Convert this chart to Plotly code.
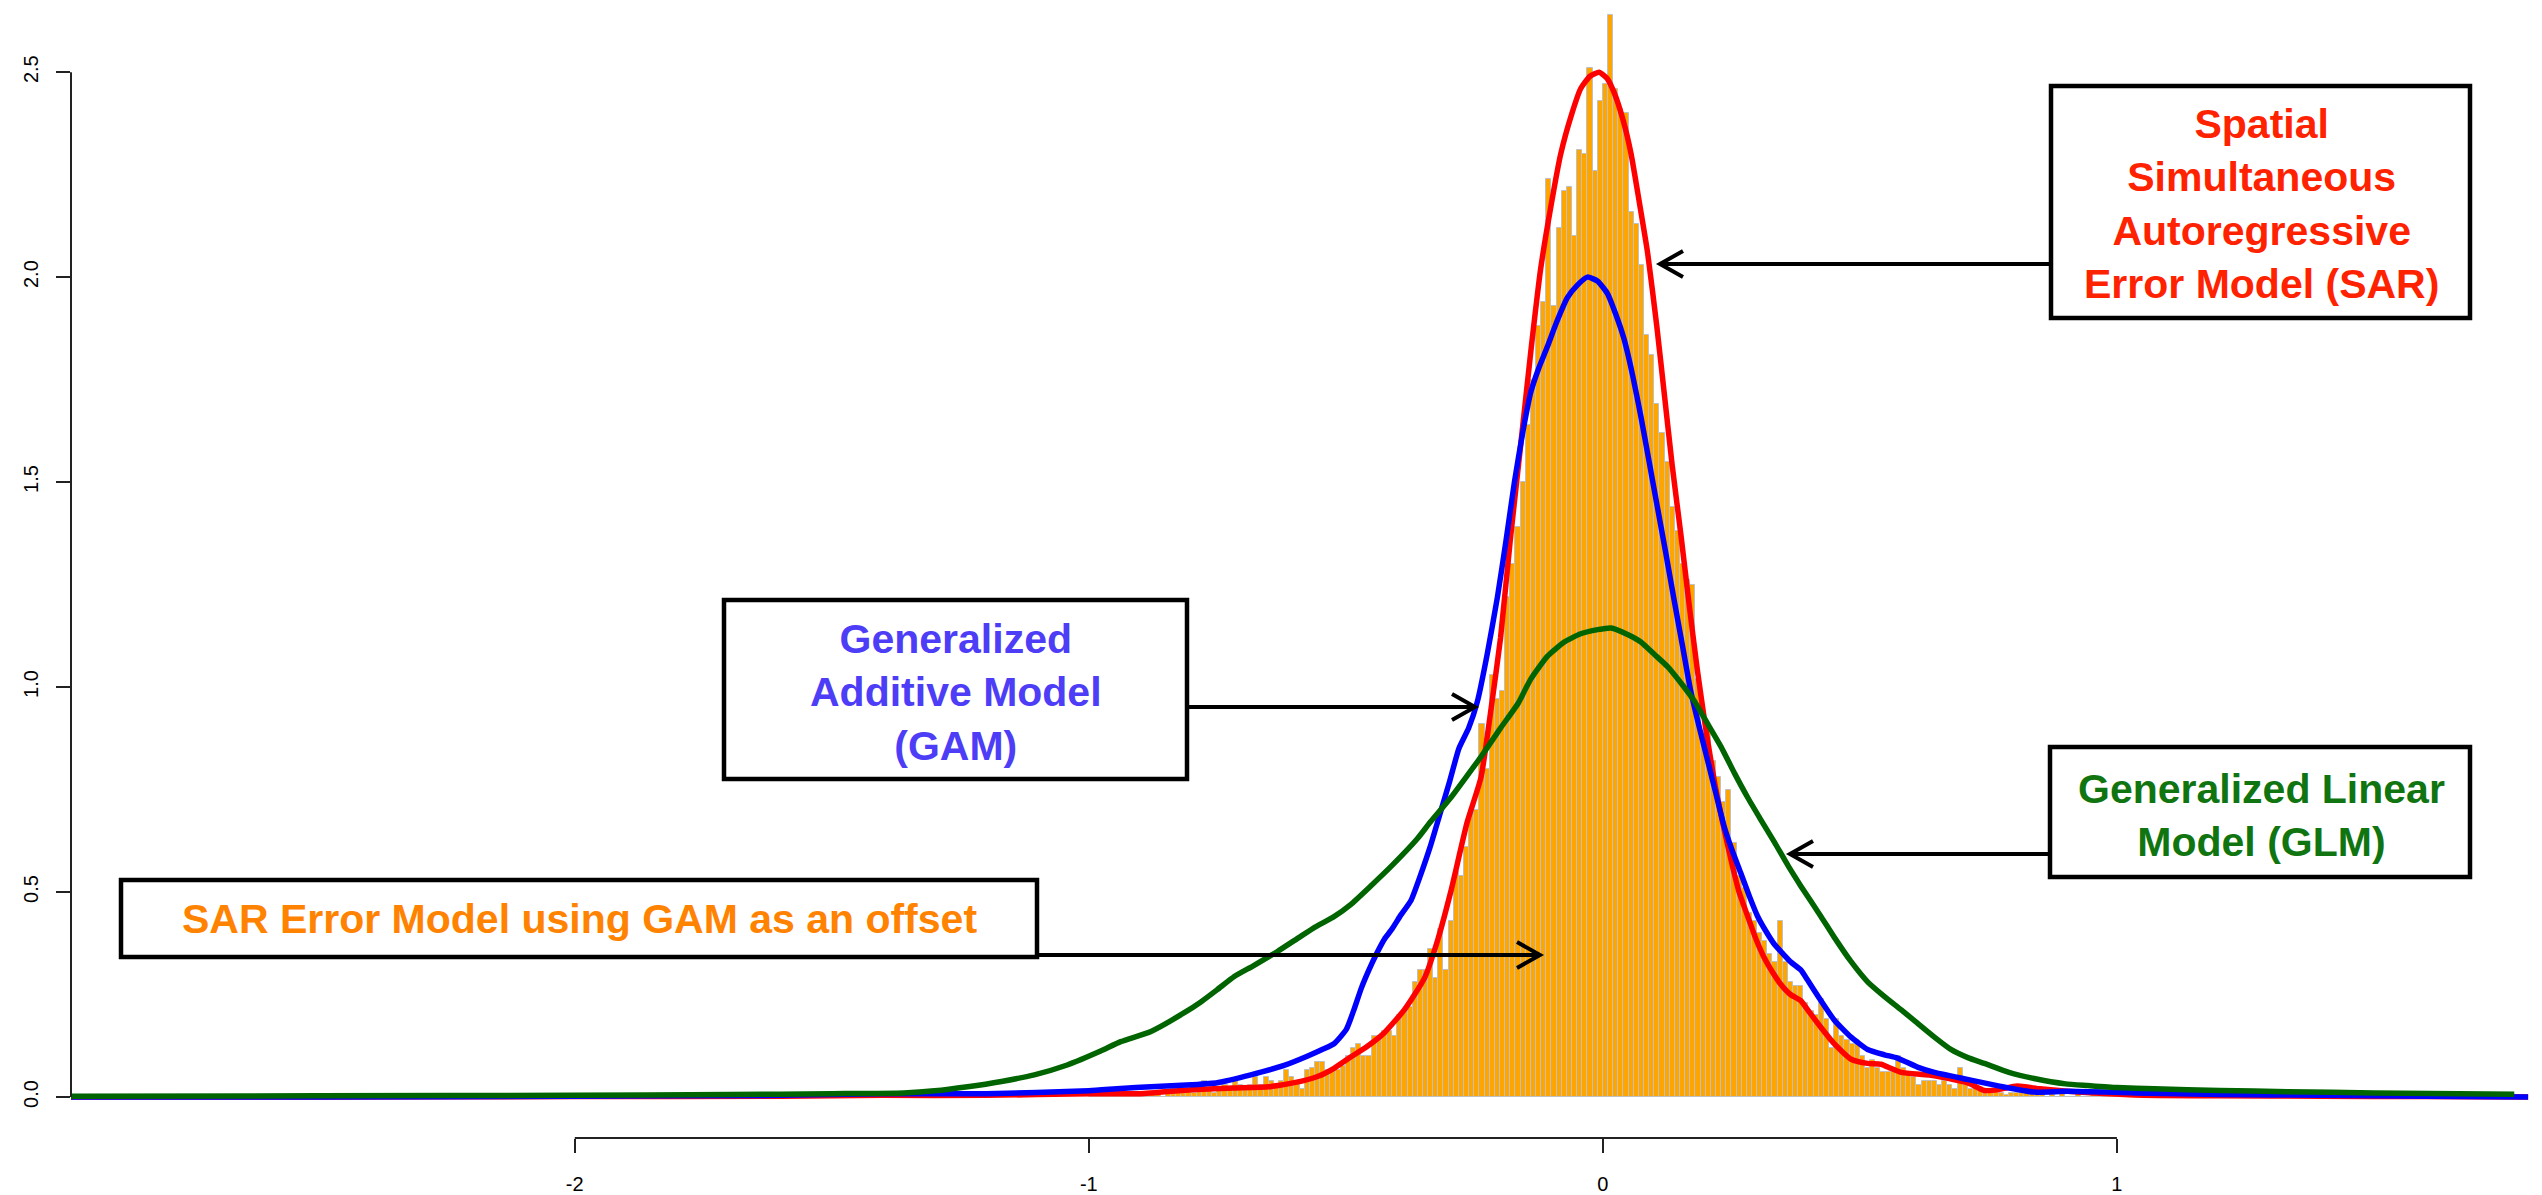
import plotly.graph_objects as go

# ---------------- data ----------------
bin_start = -1.00
bin_width = 0.01
hist_density = [
    0, 0, 0.01, 0, 0, 0.01, 0, 0, 0.01, 0, 0.01, 0, 0.01, 0.01, 0,
    0.01, 0.02, 0.01, 0.01, 0.02, 0.01, 0.02, 0.04, 0.02, 0.01,
    0.02, 0.03, 0.02, 0.04, 0.03, 0.02, 0.03, 0.05, 0.03, 0.05,
    0.04, 0.03, 0.04, 0.065, 0.05, 0.04, 0.02, 0.065, 0.07, 0.085,
    0.085, 0.065, 0.065, 0.065, 0.075, 0.10, 0.12, 0.13, 0.10, 0.10,
    0.15, 0.15, 0.16, 0.16, 0.15, 0.20, 0.21, 0.22, 0.28, 0.31,
    0.31, 0.36, 0.29, 0.41, 0.31, 0.43, 0.55, 0.54, 0.61, 0.70,
    0.70, 0.91, 0.80, 1.03, 0.97, 0.99, 1.22, 1.30, 1.39, 1.50,
    1.64, 1.75, 1.88, 1.94, 2.24, 1.93, 2.12, 2.21, 2.22, 2.10,
    2.31, 2.30, 2.51, 2.26, 2.43, 2.47, 2.64, 2.46, 2.41, 2.40,
    2.16, 2.13, 2.03, 1.86, 1.81, 1.69, 1.62, 1.55, 1.44, 1.38,
    1.30, 1.26, 1.25, 1.02, 0.89, 0.89, 0.82, 0.78, 0.72, 0.75,
    0.62, 0.54, 0.51, 0.45, 0.43, 0.40, 0.38, 0.35, 0.33, 0.43,
    0.33, 0.28, 0.27, 0.27, 0.23, 0.21, 0.20, 0.24, 0.19, 0.12,
    0.19, 0.15, 0.14, 0.13, 0.13, 0.10, 0.07, 0.09, 0.07, 0.06,
    0.06, 0.06, 0.10, 0.07, 0.06, 0.05, 0.03, 0.04, 0.04, 0.04,
    0.03, 0.04, 0.03, 0.02, 0.07, 0.03, 0.02, 0.02, 0.015, 0.015,
    0.01, 0.015, 0.01, 0.005, 0.01, 0.01, 0.01, 0.02, 0.02, 0.01,
    0.01, 0, 0.01, 0, 0.01, 0, 0, 0.01, 0, 0, 0.01, 0, 0, 0, 0,
]

sar_x = [-2.98, -2.5, -2.0, -1.6, -1.4, -1.2, -1.0, -0.9, -0.8, -0.72, -0.65, -0.6,
         -0.555, -0.523, -0.49, -0.458, -0.425, -0.386, -0.347, -0.322, -0.296, -0.264,
         -0.237, -0.216, -0.199, -0.18, -0.159, -0.14, -0.121, -0.1, -0.082, -0.06,
         -0.043, -0.025, -0.007, 0.008, 0.022, 0.04, 0.055, 0.07, 0.087, 0.105, 0.12,
         0.135, 0.152, 0.168, 0.184, 0.2, 0.217, 0.233, 0.249, 0.265, 0.282, 0.298,
         0.314, 0.33, 0.346, 0.365, 0.385, 0.40, 0.418, 0.45, 0.483, 0.515, 0.541,
         0.56, 0.58, 0.645, 0.709, 0.742, 0.77, 0.806, 0.85, 0.904, 1.034, 1.2, 1.4,
         1.6, 1.80]
sar_y = [0.0, 0.0, 0.001, 0.002, 0.004, 0.004, 0.008, 0.008, 0.018, 0.022, 0.025, 0.035,
         0.05, 0.07, 0.098, 0.124, 0.157, 0.213, 0.29, 0.38, 0.50, 0.67,
         0.78, 0.96, 1.12, 1.36, 1.60, 1.82, 2.02, 2.18, 2.30, 2.40,
         2.46, 2.49, 2.50, 2.485, 2.45, 2.38, 2.30, 2.19, 2.06, 1.88, 1.71,
         1.54, 1.37, 1.20, 1.04, 0.90, 0.77, 0.67, 0.58, 0.50, 0.44, 0.385,
         0.34, 0.305, 0.275, 0.25, 0.235, 0.21, 0.18, 0.13, 0.092, 0.082, 0.080,
         0.07, 0.06, 0.052, 0.035, 0.016, 0.018, 0.027, 0.02, 0.014, 0.005, 0.003, 0.002,
         0.001, 0.0]

gam_x = [-2.98, -2.5, -2.0, -1.6, -1.4, -1.2, -1.0, -0.938, -0.879, -0.8, -0.75, -0.685,
         -0.62, -0.574, -0.544, -0.523, -0.499, -0.485, -0.47, -0.455, -0.44, -0.425,
         -0.41, -0.395, -0.373, -0.355, -0.336, -0.317, -0.298, -0.28, -0.261, -0.244,
         -0.225, -0.205, -0.188, -0.172, -0.156, -0.14, -0.124, -0.108, -0.09, -0.069,
         -0.05, -0.03, -0.01, 0.009, 0.025, 0.041, 0.058, 0.074, 0.09, 0.106, 0.122,
         0.139, 0.155, 0.171, 0.188, 0.204, 0.22, 0.236, 0.252, 0.269, 0.285, 0.301,
         0.317, 0.334, 0.35, 0.366, 0.385, 0.398, 0.418, 0.45, 0.483, 0.515, 0.548,
         0.573, 0.612, 0.645, 0.709, 0.774, 0.839, 0.904, 1.034, 1.2, 1.4, 1.6, 1.80]
gam_y = [0.0, 0.0, 0.002, 0.004, 0.008, 0.008, 0.015, 0.021, 0.025, 0.03, 0.035, 0.054,
         0.077, 0.10, 0.117, 0.13, 0.165, 0.21, 0.265, 0.31, 0.35, 0.385,
         0.41, 0.44, 0.48, 0.54, 0.61, 0.69, 0.77, 0.85, 0.90, 0.965,
         1.08, 1.22, 1.36, 1.50, 1.62, 1.72, 1.78, 1.83, 1.89, 1.95,
         1.98, 2.00, 1.99, 1.96, 1.91, 1.85, 1.76, 1.66, 1.55, 1.44, 1.33,
         1.21, 1.10, 0.99, 0.90, 0.82, 0.74, 0.66, 0.60, 0.544, 0.49, 0.441,
         0.405, 0.372, 0.35, 0.329, 0.31, 0.286, 0.247, 0.188, 0.146, 0.116, 0.103,
         0.095, 0.073, 0.060, 0.043, 0.026, 0.012, 0.014, 0.010, 0.006, 0.004, 0.002, 0.0]

glm_x = [-2.98, -2.5, -2.0, -1.7, -1.5, -1.36, -1.3, -1.236, -1.17, -1.106, -1.042,
         -0.977, -0.938, -0.879, -0.815, -0.782, -0.75, -0.717, -0.68, -0.633, -0.59,
         -0.559, -0.523, -0.49, -0.458, -0.41, -0.361, -0.336, -0.296, -0.261, -0.237,
         -0.199, -0.165, -0.14, -0.108, -0.075, -0.043, -0.01, 0.016, 0.045, 0.074,
         0.10, 0.126, 0.152, 0.178, 0.204, 0.23, 0.256, 0.282, 0.308, 0.334, 0.36,
         0.385, 0.424, 0.45, 0.483, 0.515, 0.548, 0.58, 0.612, 0.645, 0.677, 0.71,
         0.742, 0.79, 0.839, 0.9, 0.943, 1.0, 1.073, 1.2, 1.332, 1.5, 1.773]
glm_y = [0.002, 0.003, 0.004, 0.006, 0.008, 0.01, 0.015, 0.025, 0.038, 0.054, 0.078,
         0.112, 0.135, 0.16, 0.205, 0.232, 0.262, 0.294, 0.32, 0.355, 0.39,
         0.415, 0.44, 0.47, 0.507, 0.565, 0.63, 0.67, 0.73, 0.789, 0.83,
         0.90, 0.96, 1.02, 1.075, 1.11, 1.13, 1.14, 1.144, 1.13, 1.11,
         1.08, 1.05, 1.01, 0.966, 0.91, 0.854, 0.79, 0.73, 0.675, 0.621, 0.565,
         0.515, 0.441, 0.39, 0.33, 0.281, 0.245, 0.213, 0.18, 0.146, 0.116, 0.096,
         0.082, 0.06, 0.045, 0.032, 0.028, 0.023, 0.02, 0.016, 0.013, 0.01, 0.007]

x_tick_vals = [-2, -1, 0, 1]
x_tick_text = ["-2", "-1", "0", "1"]
y_tick_vals = [0.0, 0.5, 1.0, 1.5, 2.0, 2.5]
y_tick_text = ["0.0", "0.5", "1.0", "1.5", "2.0", "2.5"]

# ---------------- layout geometry ----------------
W, H = 2542, 1195
ML, MR, MT, MB = 71, 0, 0, 57
X_RANGE = [-2.98, 1.827]
Y_RANGE = [-0.1, 2.676]
FONT = "Liberation Sans, Arial, Helvetica, sans-serif"
AXIS_COL = "#222222"


def px(xpix):
    return (xpix - ML) / (W - ML - MR)


def py(ypix):
    return (H - MB - ypix) / (H - MT - MB)


bin_centres = [round(bin_start + bin_width * (i + 0.5), 4) for i in range(len(hist_density))]

fig = go.Figure()
fig.add_trace(go.Bar(
    x=bin_centres, y=hist_density, width=bin_width,
    marker=dict(color="#FFA500", line=dict(color="#C0C0C0", width=1)),
    hoverinfo="skip",
))
for xs, ys, col in [(sar_x, sar_y, "#FF0000"), (gam_x, gam_y, "#0000FF"), (glm_x, glm_y, "#006400")]:
    fig.add_trace(go.Scatter(
        x=xs, y=ys, mode="lines",
        line=dict(color=col, width=5.5, shape="spline", smoothing=0.5),
        hoverinfo="skip",
    ))

shapes = []
# axis lines (R style: only span the tick range)
shapes.append(dict(type="line", xref="x", yref="paper", x0=-2, x1=1, y0=0, y1=0,
                   line=dict(color=AXIS_COL, width=2)))
shapes.append(dict(type="line", xref="paper", yref="y", x0=0, x1=0, y0=0, y1=2.5,
                   line=dict(color=AXIS_COL, width=2)))

# annotation boxes (pixel rectangles)
boxes = [
    (2051, 86, 2470, 318),   # SAR
    (724, 600, 1187, 779),   # GAM
    (121, 880, 1037, 957),   # SAR + GAM offset
    (2050, 747, 2470, 877),  # GLM
]
for x0, y0, x1, y1 in boxes:
    shapes.append(dict(type="rect", xref="paper", yref="paper",
                       x0=px(x0), x1=px(x1), y0=py(y0), y1=py(y1),
                       line=dict(color="black", width=4.5), fillcolor="rgba(0,0,0,0)"))

# arrows: (tail_x, tail_y, tip_x, tip_y) in pixels, horizontal, open V heads
arrows = [
    (2051, 264, 1660, 264),
    (1187, 707, 1475, 707),
    (1037, 955, 1540, 955),
    (2050, 854, 1790, 854),
]
for tx, ty, hx, hy in arrows:
    d = 23 if tx > hx else -23
    path = (f"M {px(tx)},{py(ty)} L {px(hx)},{py(hy)} "
            f"M {px(hx + d)},{py(hy - 13)} L {px(hx)},{py(hy)} L {px(hx + d)},{py(hy + 13)}")
    shapes.append(dict(type="path", xref="paper", yref="paper", path=path,
                       line=dict(color="black", width=4)))

annotations = []
labels = [
    ("Spatial<br>Simultaneous<br>Autoregressive<br>Error Model (SAR)", 2261, 204, "#FF2200"),
    ("Generalized<br>Additive Model<br>(GAM)", 956, 692, "#4D3DF7"),
    ("SAR Error Model using GAM as an offset", 579, 919, "#FF8200"),
    ("Generalized Linear<br>Model (GLM)", 2261, 815, "#107510"),
]
for txt, cx, cy, col in labels:
    annotations.append(dict(text=txt, xref="paper", yref="paper", x=px(cx), y=py(cy),
                            xanchor="center", yanchor="middle", align="center", showarrow=False,
                            font=dict(family=FONT, size=41, color=col, weight="bold")))

fig.update_layout(
    width=W, height=H,
    margin=dict(l=ML, r=MR, t=MT, b=MB, pad=0),
    paper_bgcolor="white", plot_bgcolor="white",
    showlegend=False, bargap=0,
    shapes=shapes, annotations=annotations,
    xaxis=dict(range=X_RANGE, showgrid=False, zeroline=False, showline=False,
               tickmode="array", tickvals=x_tick_vals, ticktext=x_tick_text,
               ticks="outside", ticklen=14, tickwidth=1.5, tickcolor=AXIS_COL,
               ticklabelstandoff=14, automargin=False,
               tickfont=dict(family=FONT, size=20, color="black")),
    yaxis=dict(range=Y_RANGE, showgrid=False, zeroline=False, showline=False,
               tickmode="array", tickvals=y_tick_vals, ticktext=y_tick_text,
               ticks="outside", ticklen=14, tickwidth=1.5, tickcolor=AXIS_COL,
               tickangle=-90, ticklabelstandoff=10, automargin=False,
               tickfont=dict(family=FONT, size=20, color="black")),
)

fig.write_html("out.html")
